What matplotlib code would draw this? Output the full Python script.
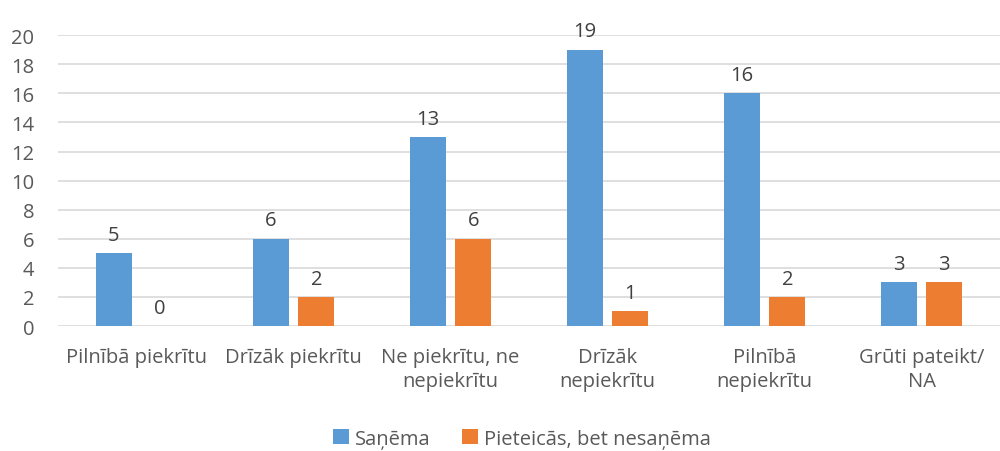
import numpy as np
import matplotlib
matplotlib.use("Agg")
import matplotlib.pyplot as plt

plt.rcParams['font.family'] = ['Open Sans', 'DejaVu Sans']

categories = ["Pilnībā piekrītu", "Drīzāk piekrītu", "Ne piekrītu, ne\nnepiekrītu",
              "Drīzāk\nnepiekrītu", "Pilnībā\nnepiekrītu", "Grūti pateikt/\nNA"]
sanema = [5, 6, 13, 19, 16, 3]
nesanema = [0, 2, 6, 1, 2, 3]
series_names = ["Saņēma", "Pieteicās, bet nesaņēma"]

BLUE = "#5B9BD5"
ORANGE = "#ED7D31"
TEXT = "#595959"
FS = 14.5

fig = plt.figure(figsize=(10, 4.52), dpi=100)
ax = fig.add_axes([0.058, 0.2765, 0.942, 0.6435])

x = np.arange(len(categories))
w = 0.23
off = 0.145
b1 = ax.bar(x - off, sanema, w, color=BLUE, label=series_names[0], zorder=3)
b2 = ax.bar(x + off, nesanema, w, color=ORANGE, label=series_names[1], zorder=3)

for bars in (b1, b2):
    for rect in bars:
        h = rect.get_height()
        ax.annotate(f"{h:g}", (rect.get_x() + rect.get_width() / 2, h),
                    xytext=(0, 6), textcoords="offset points",
                    ha="center", va="bottom", fontsize=FS, color="#404040")

ax.set_xlim(-0.5, len(categories) - 0.5)
ax.set_ylim(0, 20)
ax.set_yticks(range(0, 21, 2))
ax.yaxis.grid(True, color="#D9D9D9", linewidth=1.2, zorder=0)
ax.set_axisbelow(True)
for s in ax.spines.values():
    s.set_visible(False)
ax.tick_params(axis="both", length=0, labelsize=FS, colors=TEXT)
ax.tick_params(axis="y", pad=17)
ax.tick_params(axis="x", pad=15)
ax.set_xticks(x)
ax.set_xticklabels(categories, linespacing=1.25)

fig.legend(loc="lower center", bbox_to_anchor=(0.522, -0.035), ncol=2, frameon=False,
           fontsize=FS, handlelength=0.75, handleheight=0.75, handletextpad=0.3,
           columnspacing=1.6, labelcolor=TEXT)

fig.savefig("out.png", dpi=100)
